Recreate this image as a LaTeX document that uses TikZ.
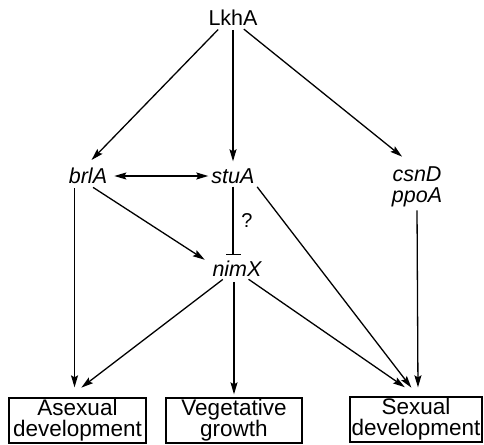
\documentclass[tikz,border=0pt]{standalone}
\usepackage{fontspec}
\setmainfont{Liberation Sans}
\usetikzlibrary{arrows.meta,positioning}
\tikzset{
  >={Stealth[length=12pt,width=7pt,inset=2pt]},
  prot/.style ={font=\fontsize{21.5}{24}\selectfont, inner sep=0pt},
  gene/.style ={font=\fontsize{21.5}{21}\selectfont\itshape, inner sep=0pt},
  note/.style ={font=\fontsize{20}{22}\selectfont, inner sep=0pt},
  fate/.style ={draw, line width=1.3pt, font=\fontsize{22.5}{21}\selectfont, align=center,
                inner sep=0pt, minimum height=45pt},
  act/.style  ={draw, line width=1.3pt, ->},
  both/.style ={draw, line width=1.3pt, <->},
  rep/.style  ={draw, line width=1.3pt, -{Bar[width=15pt,line width=1.3pt]}},
}

\begin{document}
\begin{tikzpicture}[x=1pt,y=-1pt]
  \useasboundingbox (0,0) rectangle (484,444);
  \node[prot] (lkha) at (233,18) {LkhA};
  \node[gene] (brla) at (88,176) {brlA};
  \node[gene] (stua) at (233,176) {stuA};
  \node[gene,align=center] (csnd) at (417,187) {csnD\\ppoA};
  \node[gene] (nimx) at (237,269) {nimX};
  \node[note] (qm) at (247,221) {?};
  \node[fate,minimum width=137pt] (asex) at (77.5,420.5) {Asexual\\development};
  \node[fate,minimum width=136pt] (veg) at (234,420.5) {Vegetative\\growth};
  \node[fate,minimum width=132pt] (sex) at (416,419.5) {Sexual\\development};

  \draw[act,shorten <=5pt,shorten >=11pt] (lkha.215) -- (brla.117);
  \draw[act,shorten <=4pt,shorten >=7pt] (lkha.south) -- (stua.north);
  \draw[act,shorten <=5pt,shorten >=16pt] (lkha.-49) -- (csnd.97);
  \draw[both,shorten <=7pt,shorten >=3pt] (brla.east) -- (stua.west);
  \draw[rep,shorten <=3pt,shorten >=6pt] (stua.south) -- (stua.south |- nimx.north);
  \draw[act,shorten <=6pt,shorten >=9pt] (brla.south) -- (nimx.170);
  \draw[act,shorten <=4pt,shorten >=10pt] (brla.211) -- (brla.211 |- asex.north);
  \draw[act,shorten <=4pt,shorten >=11pt] (stua.south east) -- (sex.85);
  \draw[act,shorten <=3pt,shorten >=9pt] (csnd.south) -- (sex.85);
  \draw[act,shorten <=4pt,shorten >=16pt] (nimx.216) -- (asex.111);
  \draw[act,shorten <=5pt,shorten >=3pt] (nimx.south -| veg.north) -- (veg.north);
  \draw[act,shorten <=4pt,shorten >=16pt] (nimx.-44) -- (sex.85);
\end{tikzpicture}
\end{document}
